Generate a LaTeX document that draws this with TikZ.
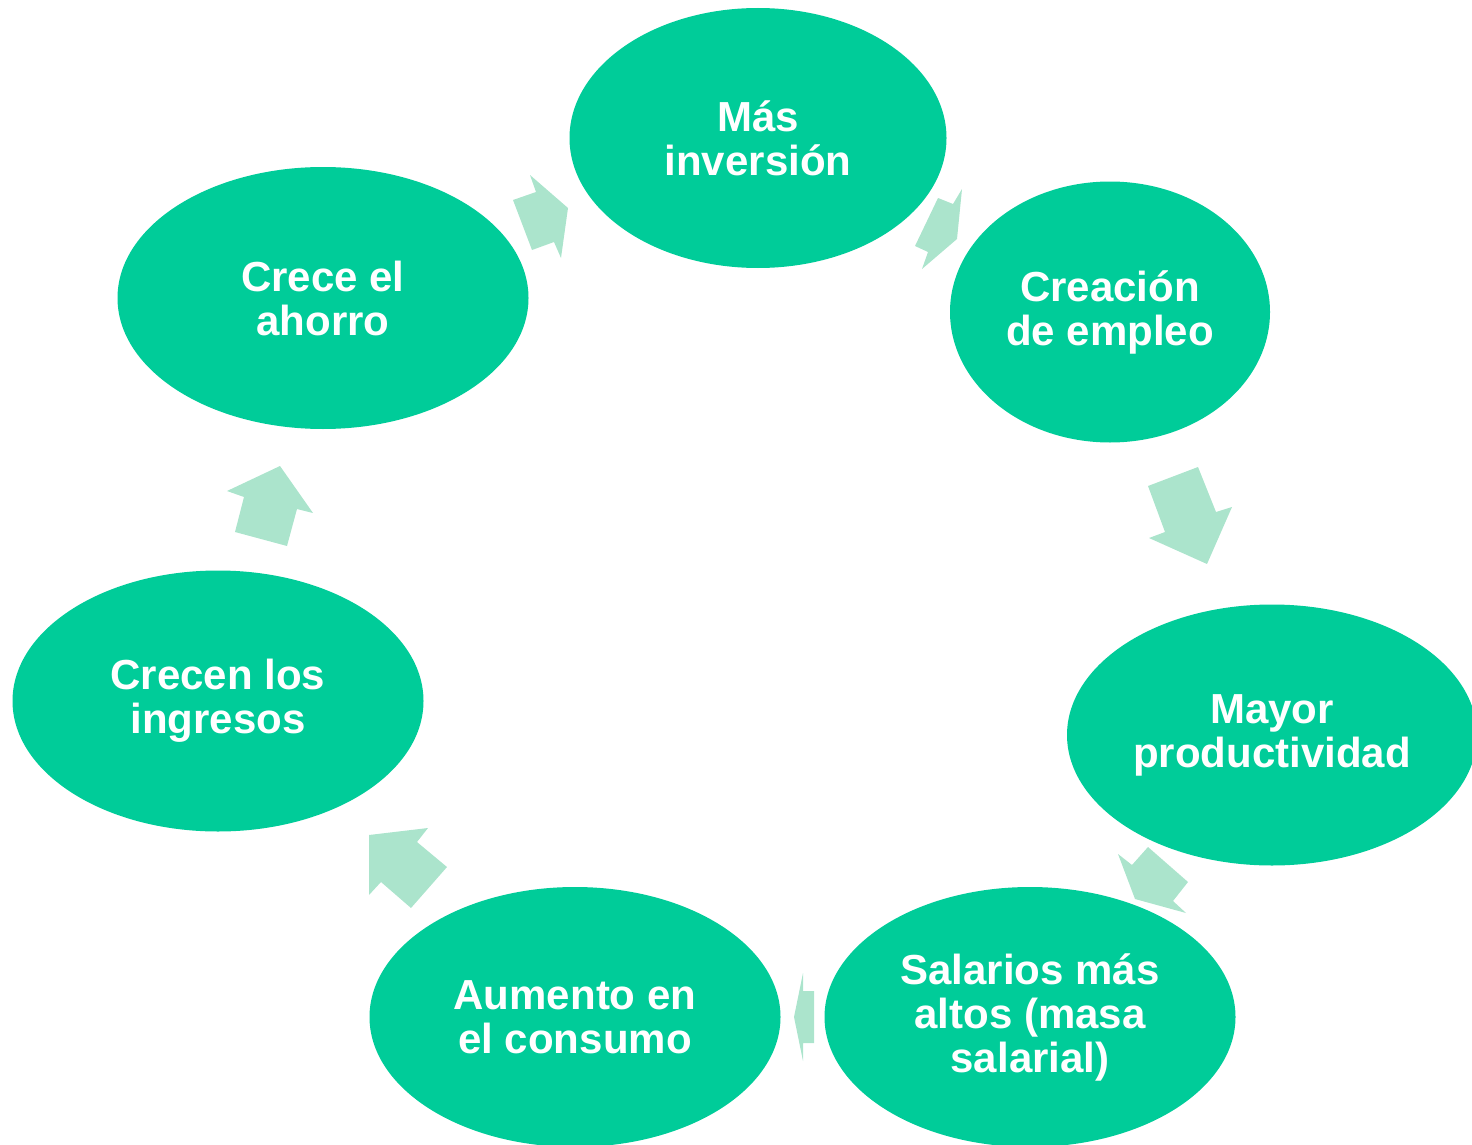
\documentclass[tikz,border=0pt]{standalone}
\usepackage{fontspec}
\setmainfont{Liberation Sans}
\usetikzlibrary{shapes.geometric}
\definecolor{ovalgreen}{RGB}{0,204,153}
\definecolor{arrowgreen}{RGB}{171,228,204}
\tikzset{
  oval/.style={ellipse, fill=ovalgreen, draw=none, inner sep=0pt, text=white,
    font=\fontsize{21}{22}\selectfont\bfseries, align=center},
  blockarrow/.style={fill=arrowgreen, draw=none}
}
\begin{document}
\begin{tikzpicture}[x=0.5pt,y=-0.5pt]
\useasboundingbox (0,0) rectangle (1472,1145);
\clip (0,0) rectangle (1472,1145);
% ovals
\node[oval, minimum width=188.5pt, minimum height=130pt] (inv) at (758,138) {Más\\inversión};
\node[oval, minimum width=160pt, minimum height=130.5pt] (emp) at (1110,312) {Creación\\de empleo};
\node[oval, minimum width=205pt, minimum height=130.5pt] (prod) at (1272,735) {Mayor\\productividad};
\node[oval, minimum width=205.5pt, minimum height=130pt] (sal) at (1030,1017) {Salarios más\\altos (masa\\salarial)};
\node[oval, minimum width=205.5pt, minimum height=130pt] (cons) at (575,1017) {Aumento en\\el consumo};
\node[oval, minimum width=205.5pt, minimum height=130.5pt] (ing) at (218,701) {Crecen los\\ingresos};
\node[oval, minimum width=205.5pt, minimum height=131pt] (aho) at (323,298) {Crece el\\ahorro};
% block arrows
\fill[blockarrow] (513,200) -- (536,192) -- (530,175) -- (568,208) -- (561,258) -- (554,242) -- (532,250) -- cycle;
\fill[blockarrow] (938,198) -- (953,204) -- (962,189) -- (957,239) -- (922,269) -- (928,252) -- (915,246) -- cycle;
\fill[blockarrow] (1148,486) -- (1198,467) -- (1216,512) -- (1232,507) -- (1207,564) -- (1149,538) -- (1165,532) -- cycle;
\fill[blockarrow] (1118,854) -- (1132,865) -- (1148,847) -- (1188,882) -- (1173,901) -- (1186,913) -- (1135,899) -- cycle;
\fill[blockarrow] (803,973) -- (803,991) -- (814,991) -- (814,1043) -- (803,1043) -- (803,1061) -- (794,1017) -- cycle;
\fill[blockarrow] (369,835) -- (428,828) -- (417,842) -- (447,867) -- (411,908) -- (381,882) -- (369,895) -- cycle;
\fill[blockarrow] (227,491) -- (280,466) -- (313,513) -- (297,509) -- (287,546) -- (235,532) -- (244,497) -- cycle;
\end{tikzpicture}
\end{document}
